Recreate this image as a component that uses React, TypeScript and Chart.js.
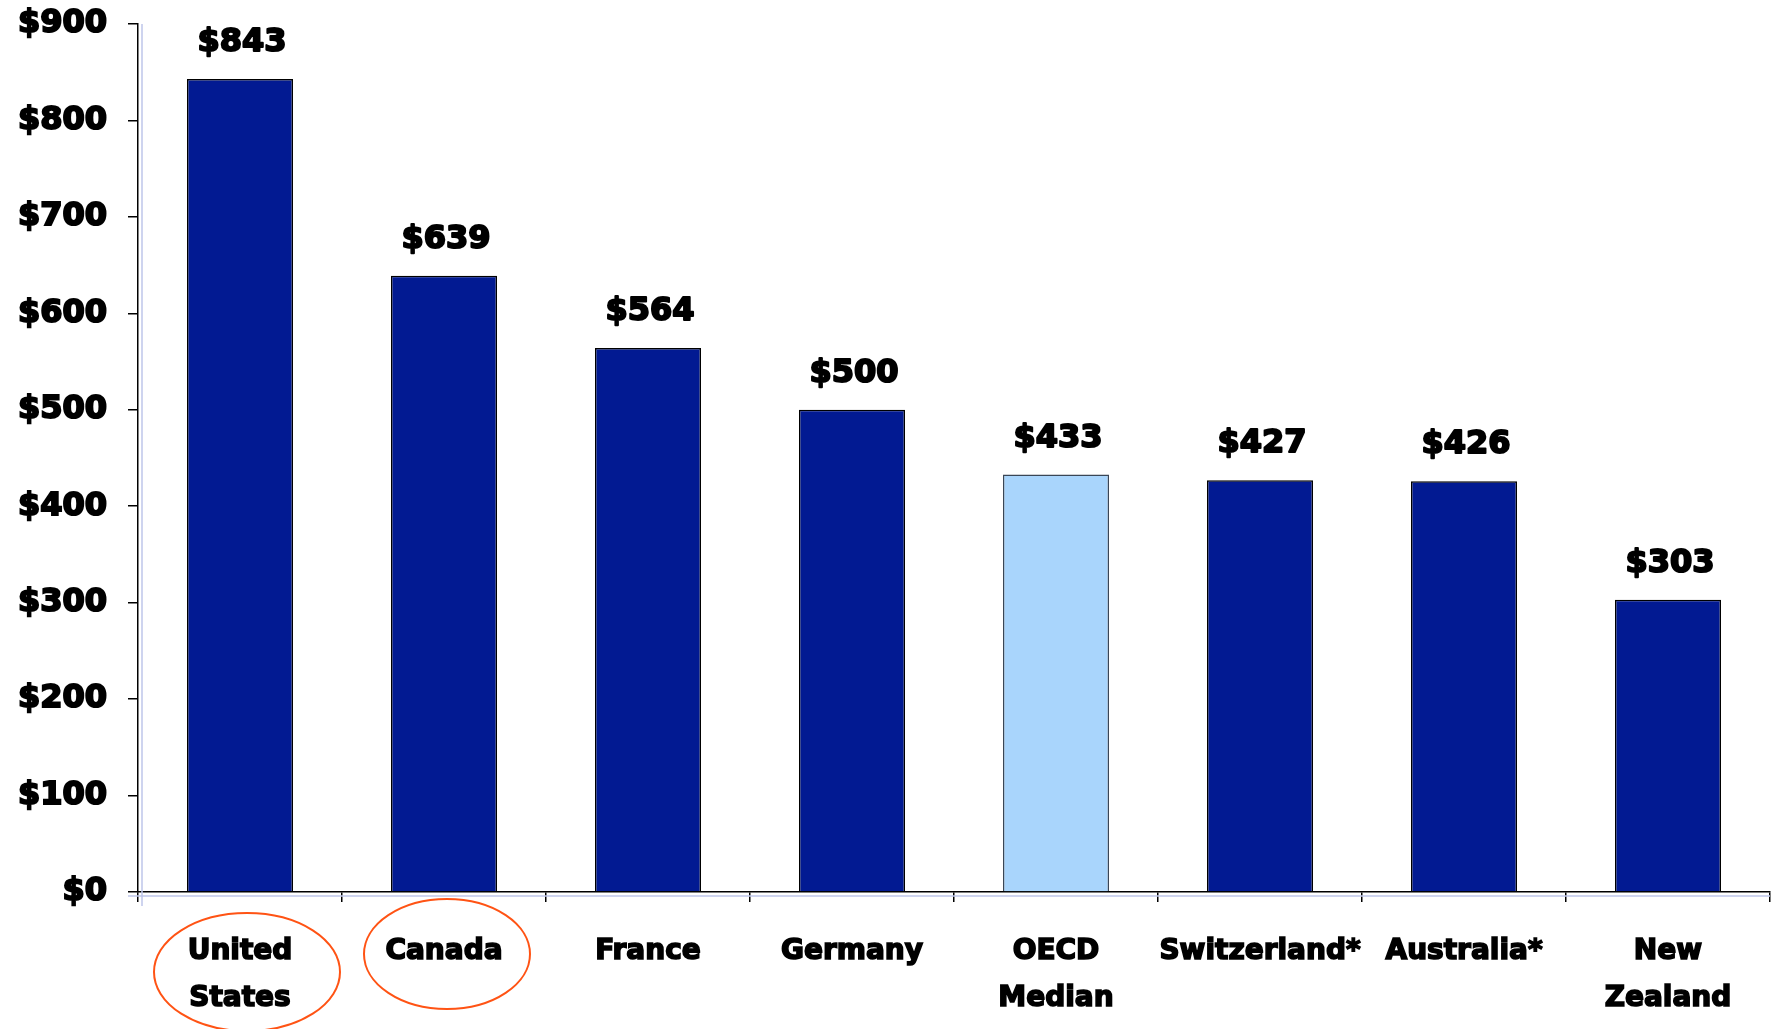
import React, { useEffect, useRef } from "react";
import { Chart, registerables } from "chart.js";

Chart.register(...registerables);

const categories: (string | string[])[] = [
  ["United", "States"],
  "Canada",
  "France",
  "Germany",
  ["OECD", "Median"],
  "Switzerland*",
  "Australia*",
  ["New", "Zealand"],
];
const values = [843, 639, 564, 500, 433, 427, 426, 303];
const valueLabels = ["$843", "$639", "$564", "$500", "$433", "$427", "$426", "$303"];
const highlightIndex = 4;
const circledIndices = [0, 1];
const yTicks = [0, 100, 200, 300, 400, 500, 600, 700, 800, 900];

const NAVY = "#021A92";
const LIGHT = "#A9D5FC";
const FONT = "'DejaVu Sans', sans-serif";

const overlayPlugin = {
  id: "overlay",
  afterDatasetsDraw(chart: any) {
    const { ctx, chartArea, scales } = chart;
    const meta = chart.getDatasetMeta(0);
    ctx.save();
    // value labels
    ctx.font = `bold 32px ${FONT}`;
    ctx.fillStyle = "#000";
    ctx.strokeStyle = "#000";
    ctx.lineWidth = 2;
    ctx.lineJoin = "round";
    ctx.textAlign = "center";
    ctx.textBaseline = "middle";
    meta.data.forEach((bar: any, i: number) => {
      ctx.strokeText(valueLabels[i], bar.x + 2, bar.y - 36);
      ctx.fillText(valueLabels[i], bar.x + 2, bar.y - 36);
    });
    // lavender echo lines
    ctx.strokeStyle = "#BFC6EA";
    ctx.lineWidth = 1.5;
    ctx.beginPath();
    ctx.moveTo(chartArea.left + 4, chartArea.top);
    ctx.lineTo(chartArea.left + 4, chartArea.bottom + 14);
    ctx.moveTo(chartArea.left - 10, chartArea.bottom + 4);
    ctx.lineTo(chartArea.right, chartArea.bottom + 4);
    ctx.stroke();
    // circles around highlighted labels
    ctx.strokeStyle = "#FF5314";
    ctx.lineWidth = 2;
    circledIndices.forEach((idx) => {
      const cx = scales.x.getPixelForValue(idx);
      const twoLine = Array.isArray(categories[idx]);
      const cy = chartArea.bottom + (twoLine ? 80 : 62);
      const rx = twoLine ? 93 : 83;
      const ry = twoLine ? 59 : 55;
      ctx.beginPath();
      ctx.ellipse(cx + (twoLine ? 7 : 3), cy, rx, ry, 0, 0, Math.PI * 2);
      ctx.stroke();
    });
    ctx.restore();
  },
};

export default function App() {
  const canvasRef = useRef<HTMLCanvasElement | null>(null);

  useEffect(() => {
    if (!canvasRef.current) return;
    const chart = new Chart(canvasRef.current, {
      type: "bar",
      data: {
        labels: categories,
        datasets: [
          {
            data: values,
            backgroundColor: values.map((_, i) => (i === highlightIndex ? LIGHT : NAVY)),
            borderColor: values.map((_, i) => (i === highlightIndex ? "#3A4656" : "#000")),
            borderWidth: 1.5,
            barPercentage: 0.52,
            categoryPercentage: 1,
          },
        ],
      },
      options: {
        animation: false,
        responsive: true,
        maintainAspectRatio: false,
        layout: { padding: { top: 24, right: 1, left: 0, bottom: 0 } },
        plugins: {
          legend: { display: false },
          tooltip: { enabled: false },
        },
        scales: {
          x: {
            offset: true,
            grid: {
              display: true,
              offset: true,
              drawOnChartArea: false,
              drawTicks: true,
              tickLength: 10,
              color: "#000",
              lineWidth: 1.5,
            },
            border: { display: true, color: "#000", width: 1.5 },
            ticks: {
              color: "#000",
              textStrokeColor: "#000",
              textStrokeWidth: 1.6,
              font: { family: FONT, size: 28, weight: "bold", lineHeight: 1.68 },
              padding: 26,
              maxRotation: 0,
              autoSkip: false,
            },
            afterFit: (scale: any) => {
              scale.height = 137;
              scale.paddingLeft = 0;
              scale.paddingRight = 0;
            },
          },
          y: {
            min: 0,
            max: 900,
            afterBuildTicks: (scale: any) => {
              scale.ticks = yTicks.map((v) => ({ value: v }));
            },
            grid: {
              display: true,
              drawOnChartArea: false,
              drawTicks: true,
              tickLength: 10,
              color: "#000",
              lineWidth: 1.5,
            },
            border: { display: true, color: "#000", width: 1.5 },
            ticks: {
              color: "#000",
              textStrokeColor: "#000",
              textStrokeWidth: 2,
              font: { family: FONT, size: 32, weight: "bold" },
              padding: 21,
              callback: (v: any) => "$" + v,
            },
            afterFit: (scale: any) => {
              scale.width = 138;
              scale.paddingTop = 0;
              scale.paddingBottom = 0;
            },
          },
        },
      },
      plugins: [overlayPlugin],
    });
    return () => chart.destroy();
  }, []);

  return (
    <div style={{ position: "fixed", left: 0, top: 0, width: 1771, height: 1029, background: "#fff" }}>
      <canvas ref={canvasRef} />
    </div>
  );
}
